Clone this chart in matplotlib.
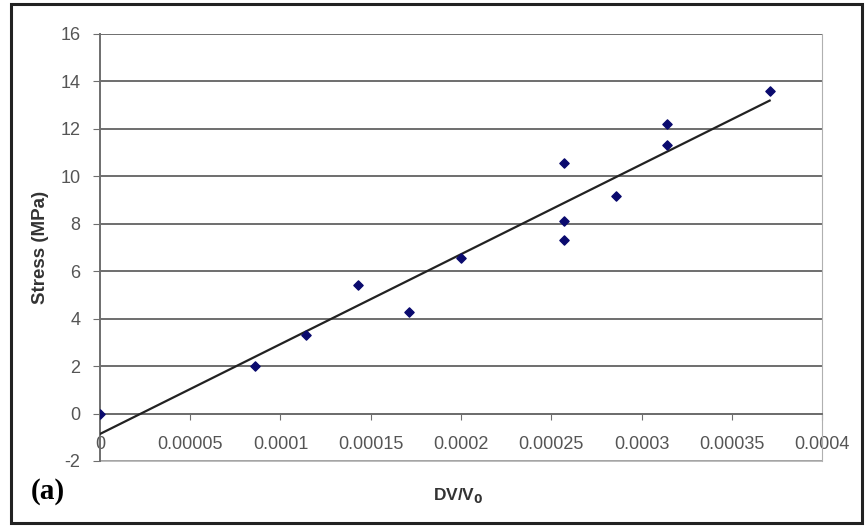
import numpy as np
import matplotlib.pyplot as plt
from matplotlib.patches import Rectangle

# volumetric strain and stress
dv_v0 = [0.0, 0.0000857, 0.0001143, 0.0001429, 0.0001714, 0.0002,
         0.000257, 0.000257, 0.000257, 0.000286, 0.000314, 0.000314, 0.000371]
stress = [0.0, 2.0, 3.3, 5.4, 4.3, 6.55,
          10.55, 8.1, 7.3, 9.15, 12.2, 11.3, 13.6]

x_ticks = [0, 0.00005, 0.0001, 0.00015, 0.0002, 0.00025, 0.0003, 0.00035, 0.0004]
x_tick_labels = ['0', '0.00005', '0.0001', '0.00015', '0.0002', '0.00025',
                 '0.0003', '0.00035', '0.0004']
y_ticks = list(range(-2, 17, 2))

plt.rcParams['font.family'] = ['Liberation Sans', 'DejaVu Sans']
plt.rcParams['axes.unicode_minus'] = False

fig = plt.figure(figsize=(8.65, 5.26), dpi=100)
ax = fig.add_axes([0.1156, 0.1236, 0.8347, 0.8118])

# linear trend line
k, b = np.polyfit(dv_v0, stress, 1)
xs = np.array([0, max(dv_v0)])
ax.plot(xs, k * xs + b, color='#222222', lw=1.6, zorder=3)

ax.scatter(dv_v0, stress, marker='D', s=22, color='#0a0a6e', zorder=4)

ax.set_xlim(0, 0.0004)
ax.set_ylim(-2, 16)
ax.set_xticks(x_ticks)
ax.set_xticklabels(x_tick_labels)
ax.set_yticks(y_ticks)

ax.yaxis.grid(True, color='#6e6e6e', lw=1.4)
ax.set_axisbelow(True)

ax.spines['bottom'].set_position(('data', 0))
ax.spines['bottom'].set_color('#6e6e6e')
ax.spines['bottom'].set_linewidth(1.4)
ax.spines['left'].set_color('#6e6e6e')
ax.spines['left'].set_linewidth(1.4)
ax.spines['right'].set_color('#b0b0b0')
ax.spines['top'].set_visible(False)
# light border at the bottom of the plot area
ax.axhline(-2, color='#b0b0b0', lw=1.2, clip_on=False)

ax.tick_params(axis='x', direction='out', length=4, pad=12, colors='#6e6e6e',
               labelcolor='#555555', labelsize=13)
ax.tick_params(axis='y', direction='out', length=5, pad=9, colors='#6e6e6e',
               labelcolor='#555555', labelsize=13)

ax.set_ylabel('Stress (MPa)', fontsize=13.5, fontweight='bold', color='#333333',
              labelpad=8)
fig.text(0.530, 0.058, r'DV/V$_\mathbf{0}$', fontsize=12.5, fontweight='bold',
         color='#333333', ha='center', va='center')
fig.text(0.036, 0.066, '(a)', fontsize=21, fontweight='bold',
         family='Liberation Serif', ha='left', va='center')

# outer frame
fig.patches.append(Rectangle((0.013, 0.006), 0.984, 0.987, transform=fig.transFigure,
                             fill=False, edgecolor='#222222', lw=2.2))

fig.savefig('out.png', dpi=100)
